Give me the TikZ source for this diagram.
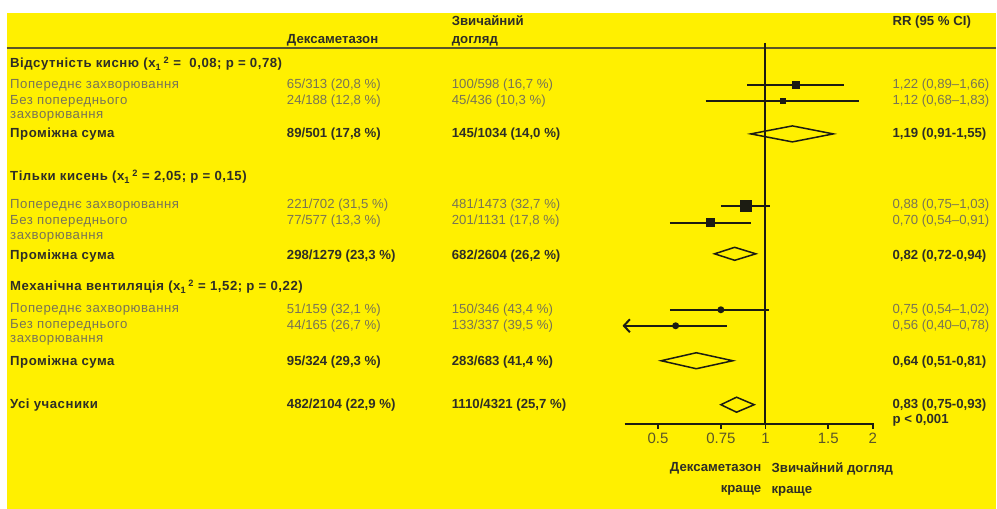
\documentclass[tikz,border=0pt]{standalone}
\usepackage{fontspec}
\setmainfont{Liberation Sans}
\newfontfamily\labelfont{Liberation Sans}[LetterSpace=4]
\usetikzlibrary{positioning,arrows.meta}

\definecolor{bgyellow}{RGB}{255,240,0}
\definecolor{plaintext}{RGB}{120,116,86}
\definecolor{boldtext}{RGB}{46,46,38}
\definecolor{plotline}{RGB}{28,28,18}
\definecolor{headrule}{RGB}{90,86,40}

% x position of a risk ratio on the log axis
\newcommand{\rr}[1]{{766+155*ln(#1)}}
\newcommand{\chisq}{x\textsubscript{1}\,\textsuperscript{2}}

\begin{document}
\begin{tikzpicture}[x=1pt,y=-1pt]
	% Define styles
	\tikzstyle{cell} = [anchor=west, inner sep=0pt, text=plaintext,
	font=\fontsize{13.2}{18}\selectfont]
	\tikzstyle{boldcell} = [cell, text=boldtext, font=\fontsize{13.2}{18}\selectfont\bfseries]
	\tikzstyle{labelcell} = [cell, font=\fontsize{13.2}{18}\labelfont]
	\tikzstyle{boldlabel} = [boldcell, font=\fontsize{13.2}{18}\labelfont\bfseries]
	\tikzstyle{ticklabel} = [inner sep=0pt, text=headrule, font=\fontsize{15}{18}\selectfont]
	\tikzstyle{ci} = [line width=2pt, draw=plotline]
	\tikzstyle{pooled} = [line width=1.5pt, draw=plotline, line join=miter]
	
	% Background
	\fill[white] (0,0) rectangle (997,509);
	\fill[bgyellow] (7,13) rectangle (997,509);
	
	% Header
	\node [boldcell] (hdex) at (287,40) {Дексаметазон};
	\node [boldcell, align=left] (husual) at (452,31) {Звичайний\\догляд};
	\node [boldcell] (hrr) at (893,22) {RR (95 \% CI)};
	\draw [line width=1.5pt, headrule] (7,48) -- (997,48);
	
	% Group 1
	\node [boldlabel] (g1) at (10,64) {Відсутність кисню (\chisq{} =\ \ 0,08; p = 0,78)};
	\node [labelcell] (g1a) at (10,85) {Попереднє захворювання};
	\node [cell] (g1a-dex) at (287,85) {65/313 (20,8 \%)};
	\node [cell] (g1a-usual) at (452,85) {100/598 (16,7 \%)};
	\node [cell] (g1a-rr) at (893,85) {1,22 (0,89–1,66)};
	\node [labelcell] (g1b) at (10,101) {Без попереднього};
	\node [labelcell] (g1b-more) at (10,116) {захворювання};
	\node [cell] (g1b-dex) at (287,101) {24/188 (12,8 \%)};
	\node [cell] (g1b-usual) at (452,101) {45/436 (10,3 \%)};
	\node [cell] (g1b-rr) at (893,101) {1,12 (0,68–1,83)};
	\node [boldlabel] (g1s) at (10,134) {Проміжна сума};
	\node [boldcell] (g1s-dex) at (287,134) {89/501 (17,8 \%)};
	\node [boldcell] (g1s-usual) at (452,134) {145/1034 (14,0 \%)};
	\node [boldcell] (g1s-rr) at (893,134) {1,19 (0,91-1,55)};
	
	% Group 2
	\node [boldlabel] (g2) at (10,177) {Тільки кисень (\chisq{} = 2,05; p = 0,15)};
	\node [labelcell] (g2a) at (10,205) {Попереднє захворювання};
	\node [cell] (g2a-dex) at (287,205) {221/702 (31,5 \%)};
	\node [cell] (g2a-usual) at (452,205) {481/1473 (32,7 \%)};
	\node [cell] (g2a-rr) at (893,205) {0,88 (0,75–1,03)};
	\node [labelcell] (g2b) at (10,221) {Без попереднього};
	\node [labelcell] (g2b-more) at (10,237) {захворювання};
	\node [cell] (g2b-dex) at (287,221) {77/577 (13,3 \%)};
	\node [cell] (g2b-usual) at (452,221) {201/1131 (17,8 \%)};
	\node [cell] (g2b-rr) at (893,221) {0,70 (0,54–0,91)};
	\node [boldlabel] (g2s) at (10,256) {Проміжна сума};
	\node [boldcell] (g2s-dex) at (287,256) {298/1279 (23,3 \%)};
	\node [boldcell] (g2s-usual) at (452,256) {682/2604 (26,2 \%)};
	\node [boldcell] (g2s-rr) at (893,256) {0,82 (0,72-0,94)};
	
	% Group 3
	\node [boldlabel] (g3) at (10,287) {Механічна вентиляція (\chisq{} = 1,52; p = 0,22)};
	\node [labelcell] (g3a) at (10,310) {Попереднє захворювання};
	\node [cell] (g3a-dex) at (287,310) {51/159 (32,1 \%)};
	\node [cell] (g3a-usual) at (452,310) {150/346 (43,4 \%)};
	\node [cell] (g3a-rr) at (893,310) {0,75 (0,54–1,02)};
	\node [labelcell] (g3b) at (10,326) {Без попереднього};
	\node [labelcell] (g3b-more) at (10,341) {захворювання};
	\node [cell] (g3b-dex) at (287,326) {44/165 (26,7 \%)};
	\node [cell] (g3b-usual) at (452,326) {133/337 (39,5 \%)};
	\node [cell] (g3b-rr) at (893,326) {0,56 (0,40–0,78)};
	\node [boldlabel] (g3s) at (10,362) {Проміжна сума};
	\node [boldcell] (g3s-dex) at (287,362) {95/324 (29,3 \%)};
	\node [boldcell] (g3s-usual) at (452,362) {283/683 (41,4 \%)};
	\node [boldcell] (g3s-rr) at (893,362) {0,64 (0,51-0,81)};
	
	% All participants
	\node [boldlabel] (all) at (10,405) {Усі учасники};
	\node [boldcell] (all-dex) at (287,405) {482/2104 (22,9 \%)};
	\node [boldcell] (all-usual) at (452,405) {1110/4321 (25,7 \%)};
	\node [boldcell] (all-rr) at (893,405) {0,83 (0,75-0,93)};
	\node [boldcell] (all-p) at (893,421) {p < 0,001};
	
	% Axis and line of no effect
	\draw [ci] (766,43) -- (766,424);
	\draw [ci] (625,424) -- (875,424);
	\foreach \t in {0.5,0.75,1,1.5,2} {
		\draw [ci, line width=1.5pt] (\rr{\t},424) -- ++(0,5);
		\node [ticklabel] at (\rr{\t},439) {\t};
	}
	\node [boldcell, anchor=north east, align=right, font=\fontsize{13.2}{21}\selectfont\bfseries]
	(better-dex) at (762,463) {Дексаметазон\\краще};
	\node [boldcell, anchor=north west, align=left, font=\fontsize{13.2}{21}\selectfont\bfseries]
	(better-usual) at (772,463) {Звичайний догляд\\краще};
	
	% Draw estimates
	\draw [ci] (\rr{0.89},85) -- (\rr{1.66},85);
	\fill [plotline] (\rr{1.22},85) +(-4,-4) rectangle +(4,4);
	\draw [ci] (\rr{0.68},101) -- (\rr{1.83},101);
	\fill [plotline] (\rr{1.12},101) +(-3,-3) rectangle +(3,3);
	\draw [pooled] (\rr{0.91},134) -- (\rr{1.19},126) -- (\rr{1.55},134) -- (\rr{1.19},142) -- cycle;
	
	\draw [ci] (\rr{0.75},206) -- (\rr{1.03},206);
	\fill [plotline] (\rr{0.88},206) +(-6,-6) rectangle +(6,6);
	\draw [ci] (\rr{0.54},223) -- (\rr{0.91},223);
	\fill [plotline] (\rr{0.70},223) +(-4.5,-4.5) rectangle +(4.5,4.5);
	\draw [pooled] (\rr{0.72},254) -- (\rr{0.82},247.5) -- (\rr{0.94},254) -- (\rr{0.82},260.5) -- cycle;
	
	\draw [ci] (\rr{0.54},310) -- (\rr{1.02},310);
	\fill [plotline] (\rr{0.75},310) circle (3.5);
	\draw [ci, -{Straight Barb[length=6pt,width=13pt]}] (\rr{0.78},326) -- (623,326);
	\fill [plotline] (\rr{0.56},326) circle (3.5);
	\draw [pooled] (\rr{0.51},361) -- (\rr{0.64},353) -- (\rr{0.81},361) -- (\rr{0.64},369) -- cycle;
	
	\draw [pooled] (\rr{0.75},405) -- (\rr{0.83},397.5) -- (\rr{0.93},405) -- (\rr{0.83},412.5) -- cycle;
\end{tikzpicture}
\end{document}
